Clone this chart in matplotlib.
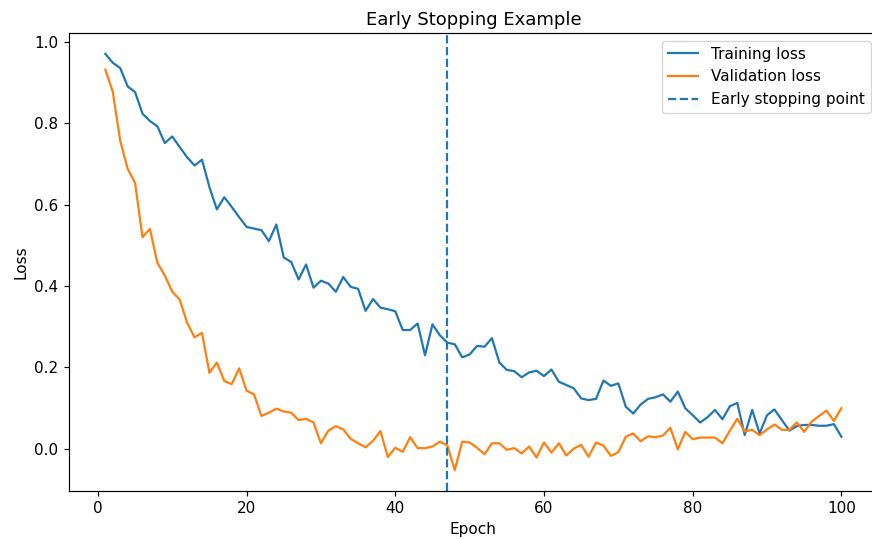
import numpy as np
import matplotlib
matplotlib.use("Agg")
import matplotlib.pyplot as plt

epochs = np.arange(1, 101)

train_loss = [
    0.970, 0.948, 0.935, 0.890, 0.876, 0.823, 0.805, 0.792, 0.751, 0.767,
    0.741, 0.716, 0.696, 0.710, 0.643, 0.588, 0.618, 0.594, 0.569, 0.545,
    0.541, 0.537, 0.510, 0.551, 0.470, 0.459, 0.416, 0.453, 0.396, 0.413,
    0.406, 0.386, 0.422, 0.398, 0.393, 0.339, 0.368, 0.347, 0.343, 0.338,
    0.292, 0.292, 0.308, 0.230, 0.306, 0.279, 0.261, 0.257, 0.225, 0.232,
    0.253, 0.251, 0.272, 0.212, 0.194, 0.191, 0.176, 0.188, 0.192, 0.179,
    0.195, 0.165, 0.157, 0.149, 0.124, 0.120, 0.123, 0.168, 0.155, 0.161,
    0.104, 0.087, 0.109, 0.123, 0.127, 0.134, 0.116, 0.141, 0.100, 0.083,
    0.065, 0.078, 0.096, 0.073, 0.105, 0.113, 0.034, 0.096, 0.038, 0.083,
    0.097, 0.071, 0.045, 0.056, 0.059, 0.059, 0.057, 0.057, 0.061, 0.030,
]

val_loss = [
    0.931, 0.877, 0.757, 0.688, 0.653, 0.520, 0.540, 0.457, 0.426, 0.386,
    0.367, 0.310, 0.274, 0.285, 0.187, 0.212, 0.167, 0.159, 0.198, 0.143,
    0.134, 0.081, 0.089, 0.099, 0.092, 0.089, 0.071, 0.074, 0.065, 0.014,
    0.045, 0.056, 0.048, 0.025, 0.014, 0.004, 0.020, 0.044, -0.020, 0.003,
    -0.007, 0.029, 0.002, 0.002, 0.006, 0.018, 0.009, -0.052, 0.018, 0.016,
    0.003, -0.013, 0.014, 0.014, -0.002, 0.002, -0.011, 0.006, -0.021, 0.016,
    -0.009, 0.014, -0.016, 0.001, 0.010, -0.019, 0.016, 0.008, -0.017, -0.008,
    0.030, 0.038, 0.019, 0.031, 0.029, 0.033, 0.052, -0.001, 0.042, 0.024,
    0.028, 0.028, 0.028, 0.014, 0.045, 0.074, 0.043, 0.047, 0.034, 0.048,
    0.060, 0.047, 0.047, 0.065, 0.042, 0.067, 0.081, 0.094, 0.069, 0.100,
]

stop_epoch = 47

# slightly enlarged text and strokes
plt.rcParams["font.size"] = 11
plt.rcParams["axes.titlesize"] = 13
plt.rcParams["lines.linewidth"] = 1.6
plt.rcParams["axes.linewidth"] = 0.86
plt.rcParams["xtick.major.size"] = 3.8
plt.rcParams["ytick.major.size"] = 3.8
plt.rcParams["xtick.major.width"] = 0.86
plt.rcParams["ytick.major.width"] = 0.86

fig = plt.figure(figsize=(8.72, 5.39), dpi=100)
ax = fig.add_axes([0.0786, 0.0891, 0.9285, 0.8497])
ax.spines["right"].set_visible(False)

ax.plot(epochs, train_loss, label="Training loss")
ax.plot(epochs, val_loss, label="Validation loss")
ax.axvline(stop_epoch, linestyle="--", label="Early stopping point")

ax.set_title("Early Stopping Example")
ax.set_xlabel("Epoch")
ax.set_ylabel("Loss")
ax.legend(loc="upper right")

fig.savefig("out.png", dpi=100)
